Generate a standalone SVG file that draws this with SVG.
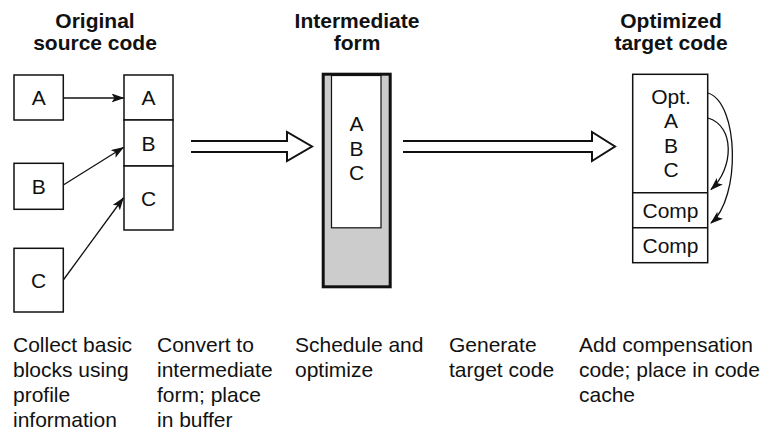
<svg xmlns="http://www.w3.org/2000/svg" width="767" height="431" viewBox="0 0 767 431">
<style>
text{font-family:"Liberation Sans",Arial,sans-serif;font-size:21px;fill:#111}
.h{font-weight:bold;text-anchor:middle}
.c{text-anchor:middle}
.box{fill:#fff;stroke:#111;stroke-width:1.5}
.ln{fill:none;stroke:#111;stroke-width:1.3}
.big{fill:#fff;stroke:#111;stroke-width:2;stroke-linejoin:miter}
</style>
<defs>
<marker id="ah" markerUnits="userSpaceOnUse" markerWidth="14" markerHeight="10" refX="12" refY="4.5" orient="auto" viewBox="0 0 14 10">
<path d="M0,0 L13,4.5 L0,9 L3,4.5 z" fill="#111"/>
</marker>
</defs>
<g id="titles">
<text class="h" x="95" y="28">Original</text>
<text class="h" x="95" y="50">source code</text>
<text class="h" x="357" y="28">Intermediate</text>
<text class="h" x="357" y="50">form</text>
<text class="h" x="671" y="28">Optimized</text>
<text class="h" x="671" y="50">target code</text>
</g>
<g id="srcA"><rect class="box" x="14" y="75" width="49.3" height="45"/><text class="c" x="38.7" y="105">A</text></g>
<g id="srcB"><rect class="box" x="14" y="163.3" width="49.3" height="46"/><text class="c" x="38.7" y="194">B</text></g>
<g id="srcC"><rect class="box" x="14" y="248.3" width="49.3" height="63.7"/><text class="c" x="38.7" y="288">C</text></g>
<g id="stack">
<rect class="box" x="124" y="75" width="49" height="45"/><text class="c" x="148.5" y="105">A</text>
<rect class="box" x="124" y="120" width="49" height="46"/><text class="c" x="148.5" y="150.5">B</text>
<rect class="box" x="124" y="166" width="49" height="64"/><text class="c" x="148.5" y="205.5">C</text>
</g>
<g id="intermediate">
<rect x="323.2" y="74.2" width="67" height="212.6" fill="#ccc" stroke="#111" stroke-width="3"/>
<rect x="331.5" y="75.5" width="49.5" height="152.3" fill="#fff" stroke="#111" stroke-width="1.2"/>
<text class="c" x="356.5" y="131">A</text>
<text class="c" x="356.5" y="155.5">B</text>
<text class="c" x="356.5" y="180">C</text>
</g>
<g id="optimized">
<rect class="box" x="632.7" y="74.3" width="75" height="188.4"/>
<line class="ln" x1="632.7" y1="192.7" x2="707.7" y2="192.7" style="stroke-width:1.5"/>
<line class="ln" x1="632.7" y1="227.7" x2="707.7" y2="227.7" style="stroke-width:1.5"/>
<text class="c" x="671" y="103.5">Opt.</text>
<text class="c" x="671" y="128">A</text>
<text class="c" x="671" y="152.5">B</text>
<text class="c" x="671" y="177">C</text>
<text class="c" x="670.5" y="217.7">Comp</text>
<text class="c" x="670.5" y="252.7">Comp</text>
</g>
<g id="connectors">
<line class="ln" x1="63.3" y1="98" x2="123.5" y2="98" marker-end="url(#ah)"/>
<line class="ln" x1="63.3" y1="185" x2="123.3" y2="147.5" marker-end="url(#ah)"/>
<line class="ln" x1="63.3" y1="280" x2="123.3" y2="198" marker-end="url(#ah)"/>
<path class="big" d="M191,141 H287 V132 L312,146.5 L287,161 V152 H191"/>
<path class="big" d="M403,141 H592 V132 L615,146.5 L592,161 V152 H403"/>
<path class="ln" d="M708,93 C739,103 741,198 711,223" marker-end="url(#ah)"/>
<path class="ln" d="M708,118 C735,126 734,168 711,189.5" marker-end="url(#ah)"/>
</g>
<g id="captions">
<text x="13" y="352">Collect basic</text>
<text x="13" y="377">blocks using</text>
<text x="13" y="402">profile</text>
<text x="13" y="427">information</text>
<text x="157" y="352">Convert to</text>
<text x="157" y="377">intermediate</text>
<text x="157" y="402">form; place</text>
<text x="157" y="427">in buffer</text>
<text x="295" y="352">Schedule and</text>
<text x="295" y="377">optimize</text>
<text x="449" y="352">Generate</text>
<text x="449" y="377">target code</text>
<text x="579" y="352">Add compensation</text>
<text x="579" y="377">code; place in code</text>
<text x="579" y="402">cache</text>
</g>
</svg>
